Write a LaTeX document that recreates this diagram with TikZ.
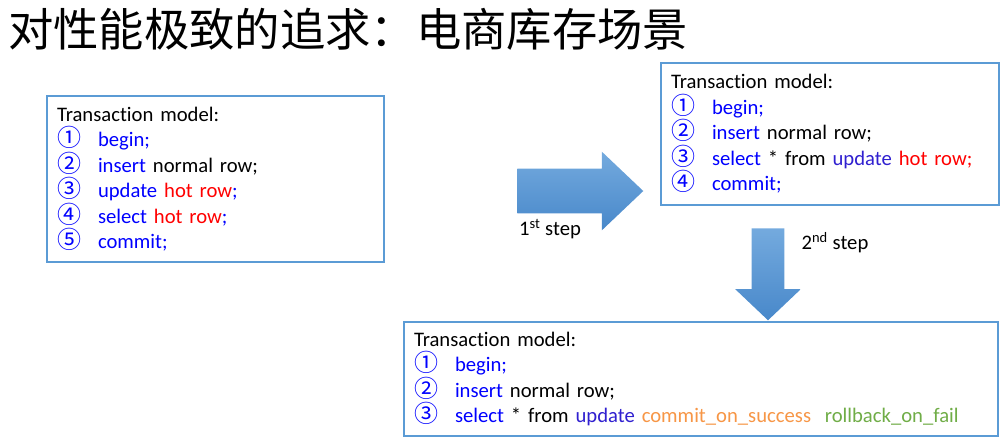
\documentclass[tikz,border=0pt]{standalone}
\usepackage{fontspec}
\setmainfont{Carlito}[Ligatures=NoCommon]
\newfontfamily\cjk{Noto Sans CJK SC}
\usepackage{xcolor}
\usetikzlibrary{positioning, arrows.meta, shapes.arrows}

\definecolor{boxline}{RGB}{91,155,213}
\definecolor{arrowtop}{RGB}{116,170,222}
\definecolor{arrowbot}{RGB}{72,136,202}
\definecolor{updblue}{RGB}{48,32,208}
\definecolor{succorange}{RGB}{247,150,70}
\definecolor{failgreen}{RGB}{112,173,71}

\newcommand{\cnum}[1]{\makebox[30.75pt][l]{\textcolor{blue}{\cjk\fontsize{18}{19.1}\selectfont #1}}}
\newcommand{\kw}[1]{\textcolor{blue}{#1}}
\newcommand{\upd}[1]{\textcolor{updblue}{#1}}
\newcommand{\hot}[1]{\textcolor{red}{#1}}

\begin{document}
\begin{tikzpicture}[x=0.75pt, y=-0.75pt]
        \tikzstyle{txbox} = [rectangle, draw=boxline, line width=1.5pt, fill=white, anchor=north west, align=left, inner xsep=7.5pt, inner ysep=0pt, font=\fontsize{15.5}{19.1}\selectfont]
        \tikzstyle{blockarrow} = [single arrow, draw=none, top color=arrowtop, bottom color=arrowbot, anchor=tail]
        \tikzstyle{steplbl} = [inner sep=0pt, font=\fontsize{15.5}{19}\selectfont]

        \useasboundingbox (0,0) rectangle (1005,440);

        \node [anchor=base west, inner sep=0pt, font=\cjk\fontsize{34}{40}\selectfont] (title) at (8,46) {对性能极致的追求：电商库存场景};

        % original transaction
        \node [txbox, text width=237.75pt, minimum height=124.5pt] (txorig) at (46,95) {Transaction model:\\
            \cnum{①}\kw{begin;}\\
            \cnum{②}\kw{insert} normal row;\\
            \cnum{③}\kw{update} \hot{hot row}\kw{;}\\
            \cnum{④}\kw{select} \hot{hot row}\kw{;}\\
            \cnum{⑤}\kw{commit;}};

        % after 1st step
        \node [txbox, text width=238.5pt, minimum height=106.5pt] (txone) at (660,62) {Transaction model:\\
            \cnum{①}\kw{begin;}\\
            \cnum{②}\kw{insert} normal row;\\
            \cnum{③}\kw{select} * from \upd{update} \hot{hot row;}\\
            \cnum{④}\kw{commit;}};

        % after 2nd step
        \node [txbox, text width=430.5pt, minimum height=85.5pt] (txtwo) at (403,321) {Transaction model:\\
            \cnum{①}\kw{begin;}\\
            \cnum{②}\kw{insert} normal row;\\
            \cnum{③}\kw{select} * from \upd{update} \textcolor{succorange}{commit\_on\_success}~~\textcolor{failgreen}{rollback\_on\_fail}};

        \node [blockarrow, inner sep=16.5pt, minimum height=94.5pt, single arrow head extend=12.75pt, single arrow tip angle=87] (stepone) at (517,191) {};
        \node [blockarrow, inner sep=12pt, shape border rotate=270, minimum height=69pt, single arrow head extend=12.4pt, single arrow tip angle=93] (steptwo) at (768,228) {};

        \node [steplbl] (lblone) at (550,229) {1\textsuperscript{st} step};
        \node [steplbl] (lbltwo) at (835,243) {2\textsuperscript{nd} step};
    \end{tikzpicture}
\end{document}
